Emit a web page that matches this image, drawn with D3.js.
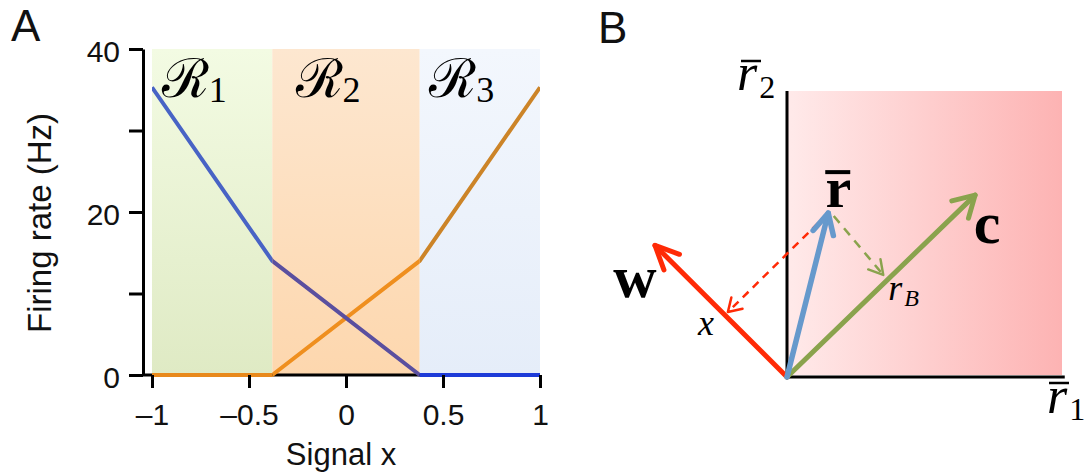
<!DOCTYPE html>
<html>
<head>
<meta charset="utf-8">
<script src="https://cdn.jsdelivr.net/npm/d3@7"></script>
<style>
  html, body { margin: 0; padding: 0; background: #fff; }
  svg { display: block; }
  .sans { font-family: "Liberation Sans", Arial, Helvetica, sans-serif; }
  .serif { font-family: "Liberation Serif", "DejaVu Serif", serif; }
</style>
</head>
<body>
<svg id="fig" width="1085" height="475"></svg>
<script>
// ---------- Panel A: firing rates of two neurons vs. signal ----------
const signalX     = [-1, -0.38, 0.38, 1];
const rateBlue    = [35.3, 14, 0, 0];
const rateOrange  = [0, 0, 14, 35.3];
const regionEdges = [-1, -0.38, 0.38, 1];
const regionSubs  = ["1", "2", "3"];
const xTicks      = [-1, -0.5, 0, 0.5, 1];
const xTickLabels = ["\u20131", "\u20130.5", "0", "0.5", "1"];
const yTicks      = [0, 10, 20, 30, 40];
const yTickLabels = ["0", "", "20", "", "40"];

// ---------- Panel B: geometry in rate space ----------
const vecW   = [-0.48, 0.46];   // decoder w
const vecR   = [0.15, 0.573];   // mean rate vector r̄
const vecC   = [0.684, 0.636];  // c
const footW  = [-0.215, 0.227]; // projection of r̄ on w  (x)
const footC  = [0.35, 0.357];   // projection of r̄ on c  (r_B)

const svg = d3.select("#fig");
const defs = svg.append("defs");

// region fills (vertical gradients) and line tints per region
const regionTop    = ["#f3fbe3", "#fde7d0", "#f3f7fd"];
const regionBottom = ["#dfeac4", "#fdd7ae", "#e5edf9"];
const blueTint     = ["#4863c5", "#5a4f9f", "#1d3bd8"];
const orangeTint   = ["#e8891c", "#ef8f1f", "#cc8428"];

const x = d3.scaleLinear().domain([-1, 1]).range([152, 540]);
const y = d3.scaleLinear().domain([0, 40]).range([375, 49]);

const gA = svg.append("g");

regionSubs.forEach((s, i) => {
  const gr = defs.append("linearGradient").attr("id", "reg" + i)
    .attr("x1", 0).attr("y1", 0).attr("x2", 0).attr("y2", 1);
  gr.append("stop").attr("offset", "0%").attr("stop-color", regionTop[i]);
  gr.append("stop").attr("offset", "100%").attr("stop-color", regionBottom[i]);
  defs.append("clipPath").attr("id", "clip" + i)
    .append("rect")
    .attr("x", x(regionEdges[i])).attr("width", x(regionEdges[i + 1]) - x(regionEdges[i]))
    .attr("y", 0).attr("height", 475);
});

gA.selectAll("rect.region").data(regionSubs).join("rect")
  .attr("class", "region")
  .attr("x", (d, i) => x(regionEdges[i]))
  .attr("width", (d, i) => x(regionEdges[i + 1]) - x(regionEdges[i]))
  .attr("y", y(40)).attr("height", y(0) - y(40))
  .attr("fill", (d, i) => `url(#reg${i})`);

// baseline of the x axis, starting at the offset y axis
gA.append("line")
  .attr("x1", 143).attr("x2", x(1)).attr("y1", y(0)).attr("y2", y(0))
  .attr("stroke", "#000").attr("stroke-width", 3);

const line = d3.line().x(d => x(d[0])).y(d => y(d[1]));
const bluePts   = signalX.map((v, i) => [v, rateBlue[i]]);
const orangePts = signalX.map((v, i) => [v, rateOrange[i]]);

regionSubs.forEach((s, i) => {
  const g = gA.append("g").attr("clip-path", `url(#clip${i})`);
  g.append("path").attr("d", line(orangePts)).attr("fill", "none")
    .attr("stroke", orangeTint[i]).attr("stroke-width", 4).attr("stroke-linejoin", "round");
  g.append("path").attr("d", line(bluePts)).attr("fill", "none")
    .attr("stroke", blueTint[i]).attr("stroke-width", 4).attr("stroke-linejoin", "round");
});

// region labels ℛ1, ℛ2, ℛ3
regionSubs.forEach((s, i) => {
  const cx = (x(regionEdges[i]) + x(regionEdges[i + 1])) / 2 - 18;
  const t = gA.append("text").attr("class", "serif")
    .attr("x", cx).attr("y", 97).attr("text-anchor", "middle").attr("fill", "#000");
  t.append("tspan").attr("font-size", 54)
    .attr("font-family", "'DejaVu Serif', serif").text("\u211B");
  t.append("tspan").attr("font-size", 36).attr("dy", 5).attr("dx", 0).text(s);
});

// axes
const yAxis = d3.axisLeft(y).tickValues(yTicks).tickSize(14).tickSizeOuter(0).tickPadding(9)
  .tickFormat((d, i) => yTickLabels[i]);
const gy = gA.append("g").attr("transform", "translate(143,0)").call(yAxis);
const xAxis = d3.axisBottom(x).tickValues(xTicks).tickSize(13).tickSizeOuter(0).tickPadding(16)
  .tickFormat((d, i) => xTickLabels[i]);
const gx = gA.append("g").attr("transform", `translate(0,${y(0)})`).call(xAxis);
gx.select(".domain").remove();
[gx, gy].forEach(g => {
  g.selectAll("line").attr("stroke", "#000").attr("stroke-width", 3);
  g.selectAll(".domain").attr("stroke", "#000").attr("stroke-width", 3);
  g.selectAll("text").attr("class", "sans").attr("font-size", 30).attr("fill", "#111");
});
gy.selectAll("text").attr("dy", "0.40em");

gA.append("text").attr("class", "sans").attr("x", 341).attr("y", 465)
  .attr("text-anchor", "middle").attr("font-size", 31).attr("fill", "#111").text("Signal x");
gA.append("text").attr("class", "sans")
  .attr("transform", "translate(51,223) rotate(-90)")
  .attr("text-anchor", "middle").attr("font-size", 33).attr("fill", "#111").text("Firing rate (Hz)");
gA.append("text").attr("class", "sans").attr("x", 11).attr("y", 41)
  .attr("font-size", 44).attr("fill", "#111").text("A");

// ---------- Panel B drawing ----------
const bx = d3.scaleLinear().domain([0, 1]).range([787, 1062]);
const by = d3.scaleLinear().domain([0, 1]).range([377, 91]);
const gB = svg.append("g");

gB.append("text").attr("class", "sans").attr("x", 598).attr("y", 43)
  .attr("font-size", 44).attr("fill", "#111").text("B");

const pink = defs.append("linearGradient").attr("id", "pink")
  .attr("x1", 0).attr("y1", 0).attr("x2", 1).attr("y2", 0);
pink.append("stop").attr("offset", "0%").attr("stop-color", "#ffeaea");
pink.append("stop").attr("offset", "100%").attr("stop-color", "#fdb3b3");
gB.append("rect").attr("x", bx(0)).attr("y", by(1))
  .attr("width", bx(1) - bx(0)).attr("height", by(0) - by(1) - 2).attr("fill", "url(#pink)");

gB.append("line").attr("x1", bx(0)).attr("x2", bx(0)).attr("y1", by(1)).attr("y2", by(0) + 1.5)
  .attr("stroke", "#000").attr("stroke-width", 3);
gB.append("line").attr("x1", bx(0)).attr("x2", bx(1.01)).attr("y1", by(0)).attr("y2", by(0))
  .attr("stroke", "#000").attr("stroke-width", 3);

function arrow(from, to, color, width, headLen, headAng, dash) {
  const x0 = bx(from[0]), y0 = by(from[1]), x1 = bx(to[0]), y1 = by(to[1]);
  const a = Math.atan2(y0 - y1, x0 - x1);
  const g = gB.append("g").attr("fill", "none").attr("stroke", color)
    .attr("stroke-width", width).attr("stroke-linecap", "round").attr("stroke-linejoin", "round");
  g.append("line").attr("x1", x0).attr("y1", y0).attr("x2", x1).attr("y2", y1)
    .attr("stroke-dasharray", dash || null).attr("stroke-linecap", dash ? "butt" : "round");
  const p = d3.path();
  p.moveTo(x1 + headLen * Math.cos(a + headAng), y1 + headLen * Math.sin(a + headAng));
  p.lineTo(x1, y1);
  p.lineTo(x1 + headLen * Math.cos(a - headAng), y1 + headLen * Math.sin(a - headAng));
  g.append("path").attr("d", p.toString());
}

const rad = Math.PI / 180;
arrow([0, 0], vecW, "#ff2a06", 5, 26, 25 * rad);
arrow([0, 0], vecC, "#8aa34d", 5, 24, 30 * rad);
arrow(vecR, footW, "#ff2a06", 2.5, 15, 32 * rad, "8,6");
arrow([vecR[0] + 0.02, vecR[1] - 0.01], footC, "#8aa34d", 2.5, 16, 30 * rad, "9,7");
arrow([0, 0], vecR, "#6699cc", 5.5, 23, 27 * rad);

// vector labels
function label(px, py, txt, size, weight, style, anchor) {
  return gB.append("text").attr("class", "serif").attr("x", px).attr("y", py)
    .attr("font-size", size).attr("font-weight", weight || "normal")
    .attr("font-style", style || "normal").attr("text-anchor", anchor || "middle")
    .attr("fill", "#000").text(txt);
}
function overline(x1, x2, yy, w) {
  gB.append("line").attr("x1", x1).attr("x2", x2).attr("y1", yy).attr("y2", yy)
    .attr("stroke", "#000").attr("stroke-width", w);
}

label(bx(vecW[0]) - 20, by(vecW[1]) + 52, "w", 60, "bold");
label(bx(vecC[0]) + 12, by(vecC[1]) + 48, "c", 60, "bold");
label(bx(vecR[0]) + 10, by(vecR[1]) - 6, "r", 58, "bold");
overline(bx(vecR[0]) - 3, bx(vecR[0]) + 22, by(vecR[1]) - 41, 4);

label(bx(footW[0]) - 22, by(footW[1]) + 23, "x", 36, "normal", "italic");
const rb = label(bx(footC[0]) + 5, by(footC[1]) + 25, "r", 36, "normal", "italic", "start");
rb.append("tspan").attr("font-size", 24).attr("dy", 6).attr("dx", 2).text("B");

// axis labels r̄2 and r̄1
const r2 = label(bx(0) - 50, by(1) - 1, "r", 52, "normal", "italic", "start");
r2.append("tspan").attr("font-size", 32).attr("font-style", "normal").attr("dy", 8).attr("dx", 2).text("2");
overline(bx(0) - 46, bx(0) - 26, by(1) - 30, 2.5);
const r1 = label(bx(0) + 260, by(0) + 36, "r", 52, "normal", "italic", "start");
r1.append("tspan").attr("font-size", 32).attr("font-style", "normal").attr("dy", 7).attr("dx", 2).text("1");
overline(bx(0) + 262, bx(0) + 282, by(0) + 6, 2.5);
</script>
</body>
</html>
